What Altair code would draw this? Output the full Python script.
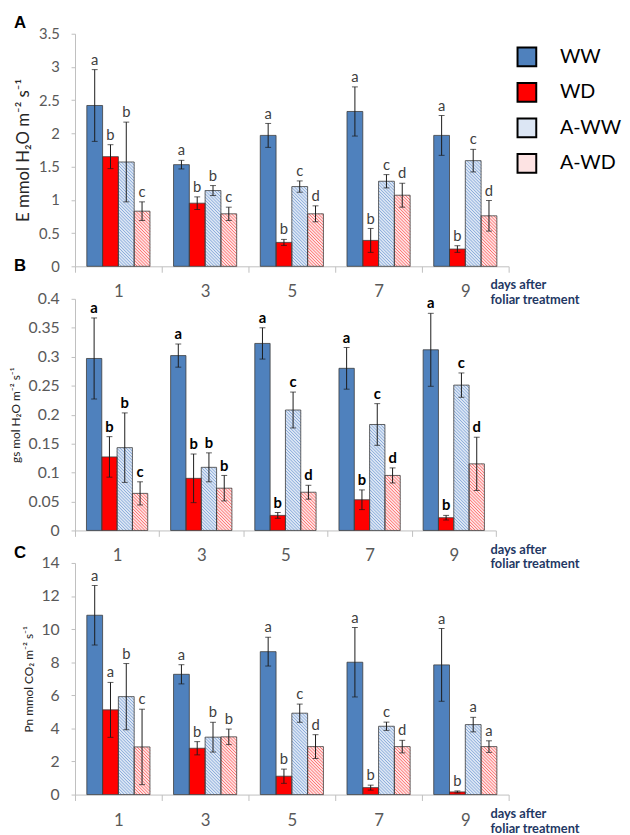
import json
import altair as alt
import pandas as pd

days = ["1", "3", "5", "7", "9"]
treatments = ["WW", "WD", "A-WW", "A-WD"]

# Panel A: transpiration E
E_mean = {"WW": [2.42, 1.53, 1.97, 2.33, 1.97],
          "WD": [1.65, 0.95, 0.36, 0.39, 0.26],
          "A-WW": [1.57, 1.14, 1.20, 1.28, 1.59],
          "A-WD": [0.83, 0.79, 0.79, 1.07, 0.76]}
E_err = {"WW": [0.54, 0.065, 0.18, 0.37, 0.30],
         "WD": [0.18, 0.095, 0.045, 0.18, 0.05],
         "A-WW": [0.60, 0.075, 0.085, 0.10, 0.17],
         "A-WD": [0.14, 0.10, 0.12, 0.18, 0.23]}
E_let = {"WW": ["a", "a", "a", "a", "a"],
         "WD": ["b", "b", "b", "b", "b"],
         "A-WW": ["b", "b", "c", "c", "c"],
         "A-WD": ["c", "c", "d", "d", "d"]}

# Panel B: stomatal conductance gs
gs_mean = {"WW": [0.297, 0.302, 0.323, 0.280, 0.312],
           "WD": [0.127, 0.090, 0.026, 0.053, 0.022],
           "A-WW": [0.143, 0.109, 0.208, 0.183, 0.251],
           "A-WD": [0.064, 0.073, 0.066, 0.095, 0.115]}
gs_err = {"WW": [0.070, 0.020, 0.027, 0.036, 0.063],
          "WD": [0.035, 0.042, 0.005, 0.017, 0.004],
          "A-WW": [0.060, 0.025, 0.031, 0.036, 0.021],
          "A-WD": [0.020, 0.022, 0.012, 0.013, 0.046]}
gs_let = {"WW": ["a", "a", "a", "a", "a"],
          "WD": ["b", "b", "b", "b", "b"],
          "A-WW": ["b", "b", "c", "c", "c"],
          "A-WD": ["c", "b", "d", "d", "d"]}

# Panel C: net photosynthesis Pn
Pn_mean = {"WW": [10.84, 7.27, 8.64, 8.00, 7.84],
           "WD": [5.12, 2.80, 1.11, 0.42, 0.16],
           "A-WW": [5.92, 3.47, 4.92, 4.13, 4.23],
           "A-WD": [2.88, 3.49, 2.90, 2.90, 2.90]}
Pn_err = {"WW": [1.80, 0.58, 0.87, 2.10, 2.20],
          "WD": [1.66, 0.40, 0.43, 0.15, 0.06],
          "A-WW": [2.00, 0.90, 0.55, 0.25, 0.44],
          "A-WD": [2.28, 0.47, 0.72, 0.38, 0.35]}
Pn_let = {"WW": ["a", "a", "a", "a", "a"],
          "WD": ["a", "b", "b", "b", "b"],
          "A-WW": ["b", "b", "c", "c", "a"],
          "A-WD": ["c", "b", "d", "d", "a"]}

FILL = ["#4F81BD", "#FF0000", "#DCE6F4", "#FDE3E3"]
HATCH = {"A-WW": "#7DA3D6", "A-WD": "#FF6060"}
AXIS_GRAY = "#BFBFBF"
LABEL_GRAY = "#595959"
FONT = "Lato"

BAR = 0.182
GAP = (1 - 4 * BAR) / 2
SPACING_PX = 3.2


def frame(means, errs, letters):
    rows = []
    for ti, t in enumerate(treatments):
        for gi, d in enumerate(days):
            rows.append(dict(day=d, gi=gi, treatment=t, ti=ti,
                             value=means[t][gi], err=errs[t][gi],
                             letter=letters[t][gi], hatch=HATCH.get(t, "none")))
    return pd.DataFrame(rows)


legend = alt.Legend(title=None, orient="none", legendX=448, legendY=13,
                    symbolType="square", symbolSize=361, symbolStrokeColor="black",
                    symbolStrokeWidth=2, symbolOpacity=1, labelFontSize=20,
                    labelFont=FONT, labelColor="black", rowPadding=9, labelOffset=23)


def panel(df, ymax, step, ytitle, ytitle_size, ylabel_size, width, height,
          tag, tag_offset, letter_bold):
    pxx = width / 5.0
    pxy = height / ymax
    n = int(round(ymax / step))
    base = alt.Chart(df).transform_calculate(
        xl=f"datum.gi + {GAP} + datum.ti * {BAR}",
        xr=f"datum.gi + {GAP} + (datum.ti + 1) * {BAR}",
        xc=f"datum.gi + {GAP} + (datum.ti + 0.5) * {BAR}",
        lo="datum.value - datum.err",
        hi="datum.value + datum.err",
    )
    xscale = alt.Scale(domain=[0, 5], nice=False, zero=False)
    yscale = alt.Scale(domain=[0, ymax], nice=False, zero=True)
    day_arr = json.dumps(days).replace('"', "'")
    xaxis = alt.Axis(
        values=[i * 0.5 for i in range(11)],
        labelExpr=f"datum.value % 1 === 0 ? '' : {day_arr}[floor(datum.value)]",
        labelOverlap=False, labelFlush=False,
        labelFontSize=17, labelFont=FONT, labelColor=LABEL_GRAY, labelPadding=12,
        tickSize=6, tickColor=AXIS_GRAY, domainColor=AXIS_GRAY,
        tickOpacity={"condition": {"test": "datum.value % 1 === 0", "value": 1}, "value": 0},
        grid=False,
        titleX=421, titleY=13, titleAlign="left", titleBaseline="top", titleAngle=0,
        titleFont=FONT, titleFontSize=13, titleFontWeight="bold", titleColor="#1F3864",
        titleLineHeight=15,
    )
    yaxis = alt.Axis(
        values=[round(i * step, 4) for i in range(n + 1)], format="~g",
        labelOverlap=False, labelFlush=False, labelBound=False,
        labelFontSize=ylabel_size, labelFont=FONT, labelColor=LABEL_GRAY, labelPadding=12,
        tickSize=4, tickColor=AXIS_GRAY, domainColor=AXIS_GRAY, grid=False,
        titleFont=FONT, titleFontSize=ytitle_size, titleFontWeight="normal",
        titleColor="#262626", titlePadding=6,
    )
    xtitle = ["days after", "foliar treatment"]
    X = lambda f: alt.X(f, scale=xscale, axis=xaxis, title=xtitle)
    Y = lambda f: alt.Y(f, scale=yscale, axis=yaxis, title=ytitle)
    bars = base.mark_rect().encode(
        x=X("xl:Q"), x2="xr:Q", y=Y("value:Q"), y2=alt.datum(0),
        fill=alt.Fill("treatment:N", scale=alt.Scale(domain=treatments, range=FILL),
                      legend=legend),
    )
    hatch = base.transform_filter("datum.ti >= 2").transform_calculate(
        k="sequence(1, 160)"
    ).transform_flatten(["k"]).transform_calculate(
        c=f"datum.k * {SPACING_PX}",
        bw=f"(datum.xr - datum.xl) * {pxx}",
        bh=f"datum.value * {pxy}",
    ).transform_calculate(
        ulo="max(0, datum.c - datum.bh)",
        uhi="min(datum.bw, datum.c)",
    ).transform_filter("datum.ulo < datum.uhi").transform_calculate(
        hx1=f"datum.xl + datum.ulo / {pxx}",
        hy1=f"(datum.c - datum.ulo) / {pxy}",
        hx2=f"datum.xl + datum.uhi / {pxx}",
        hy2=f"(datum.c - datum.uhi) / {pxy}",
    ).mark_rule(strokeWidth=0.9).encode(
        x=X("hx1:Q"), x2="hx2:Q", y=Y("hy1:Q"), y2="hy2:Q",
        color=alt.Color("hatch:N", scale=None),
    )
    outline = base.mark_rect(fillOpacity=0, stroke="#3C3C3C", strokeWidth=0.8).encode(
        x=X("xl:Q"), x2="xr:Q", y=Y("value:Q"), y2=alt.datum(0),
    )
    ebar = base.mark_rule(color="#1A1A1A", strokeWidth=1).encode(
        x=X("xc:Q"), y=Y("lo:Q"), y2="hi:Q",
    )
    caps = base.transform_fold(["lo", "hi"], as_=["end", "yv"]).mark_tick(
        orient="horizontal", size=6, thickness=1, color="#1A1A1A"
    ).encode(x=X("xc:Q"), y=Y("yv:Q"))
    txt = base.mark_text(
        baseline="bottom", dy=-2, font=FONT, fontSize=15,
        fontWeight="bold" if letter_bold else "normal",
        color="#000000" if letter_bold else "#404040",
    ).encode(x=X("xc:Q"), y=Y("hi:Q"), text="letter:N")
    return alt.layer(bars, hatch, outline, ebar, caps, txt).properties(
        width=width, height=height,
        title=alt.TitleParams(text=tag, anchor="start", frame="group", dx=-62,
                              offset=tag_offset, font="Liberation Sans", fontSize=17,
                              fontWeight="bold", color="#000000"),
    )


pA = panel(frame(E_mean, E_err, E_let), 3.5, 0.5, "E mmol H₂O m⁻² s⁻¹", 17, 15,
           440, 236, "A", -5, False)
pB = panel(frame(gs_mean, gs_err, gs_let), 0.4, 0.05, "gs mol H₂O m⁻² s⁻¹", 12, 16,
           427, 235, "B", 16, True)
pC = panel(frame(Pn_mean, Pn_err, Pn_let), 14, 2, "Pn mmol CO₂ m⁻² s⁻¹", 12, 16,
           440, 235, "C", -7, False)

chart = alt.vconcat(pA, pB, pC, spacing=33, bounds="flush").properties(
    padding={"left": 1, "top": 0, "right": 0, "bottom": 0}
).configure_view(stroke=None).configure_axis(labelOverlap=False)

chart.save("out.html", embed_options={"renderer": "svg", "actions": False})
